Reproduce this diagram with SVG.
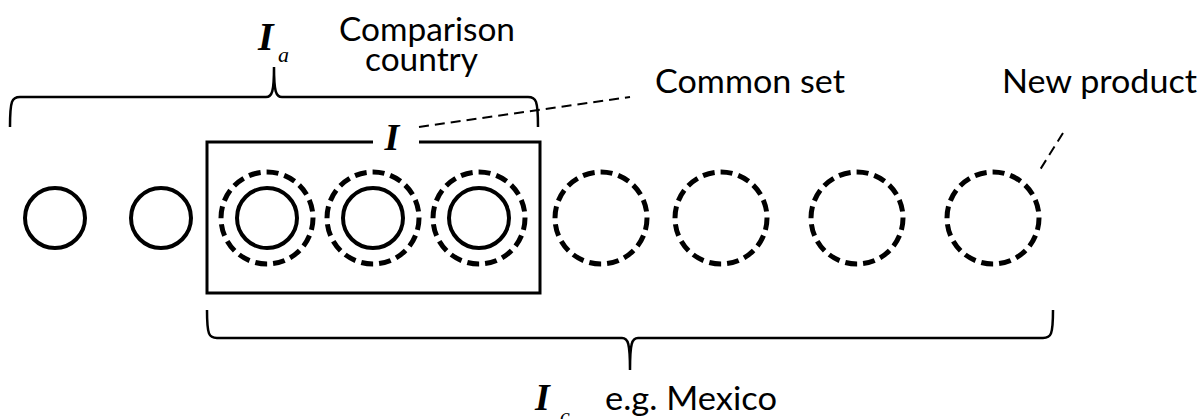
<svg xmlns="http://www.w3.org/2000/svg" width="1200" height="419" viewBox="0 0 1200 419">
<style>
.solid{fill:none;stroke:#000;stroke-width:4}
.dash{fill:none;stroke:#000;stroke-width:5;stroke-dasharray:12 6}
.brace{fill:none;stroke:#000;stroke-width:2.5}
.box{fill:none;stroke:#000;stroke-width:3}
.leader{fill:none;stroke:#000;stroke-width:2;stroke-dasharray:10 6}
.lbl{font-family:Lato,"Liberation Sans",Arial,sans-serif;font-size:32px;fill:#000}
.math{font-family:"Liberation Serif","Times New Roman",serif;font-style:italic;font-weight:bold;fill:#000}
.sub{font-family:"Liberation Serif","Times New Roman",serif;font-style:italic;font-size:22px;fill:#000}
</style>
<rect width="1200" height="419" fill="#fff"/>
<g id="connectors">
<path class="brace" d="M10,127 C10,100 12,97 20,97 H266 C272,97 274,92 274,67 C274,92 276,97 282,97 H528 C536,97 538,100 538,127"/>
<path class="brace" d="M207,310 C207,335 209,338 217,338 H622 C628,338 630,343 630,370 C630,343 632,338 638,338 H1043 C1051,338 1053,335 1053,310"/>
<line class="leader" x1="419" y1="127" x2="630" y2="97"/>
<line class="leader" x1="1063" y1="133" x2="1038" y2="173"/>
</g>
<g id="common-set-box">
<path class="box" d="M373,142 H207 V293 H540 V142 H419"/>
<text class="math" x="392" y="150" font-size="38" text-anchor="middle">I</text>
</g>
<g id="p1"><circle class="solid" cx="55" cy="218" r="30"/></g>
<g id="p2"><circle class="solid" cx="161" cy="218" r="30"/></g>
<g id="p3"><circle class="dash" cx="267" cy="218" r="46"/><circle class="solid" cx="267" cy="218" r="30"/></g>
<g id="p4"><circle class="dash" cx="373" cy="218" r="46"/><circle class="solid" cx="373" cy="218" r="30"/></g>
<g id="p5"><circle class="dash" cx="479" cy="218" r="46"/><circle class="solid" cx="479" cy="218" r="30"/></g>
<g id="p6"><circle class="dash" cx="601" cy="218" r="46"/></g>
<g id="p7"><circle class="dash" cx="721" cy="218" r="46"/></g>
<g id="p8"><circle class="dash" cx="857" cy="218" r="46"/></g>
<g id="p9"><circle class="dash" cx="993" cy="218" r="46"/></g>
<g id="label-Ia">
<text class="math" x="258" y="50" font-size="40">I</text>
<text class="sub" x="278" y="62">a</text>
</g>
<g id="label-comparison">
<text class="lbl"><tspan x="339" y="41" textLength="176" lengthAdjust="spacingAndGlyphs">Comparison</tspan><tspan x="365" y="71" textLength="113" lengthAdjust="spacingAndGlyphs">country</tspan></text>
</g>
<g id="label-common"><text class="lbl" x="655" y="93" textLength="190" lengthAdjust="spacingAndGlyphs">Common set</text></g>
<g id="label-new"><text class="lbl" x="1002" y="93" textLength="195" lengthAdjust="spacingAndGlyphs">New product</text></g>
<g id="label-Ic">
<text class="math" x="535" y="410" font-size="38">I</text>
<text class="sub" x="560" y="423">c</text>
<text class="lbl" x="605" y="410" textLength="172" lengthAdjust="spacingAndGlyphs">e.g. Mexico</text>
</g>
</svg>
